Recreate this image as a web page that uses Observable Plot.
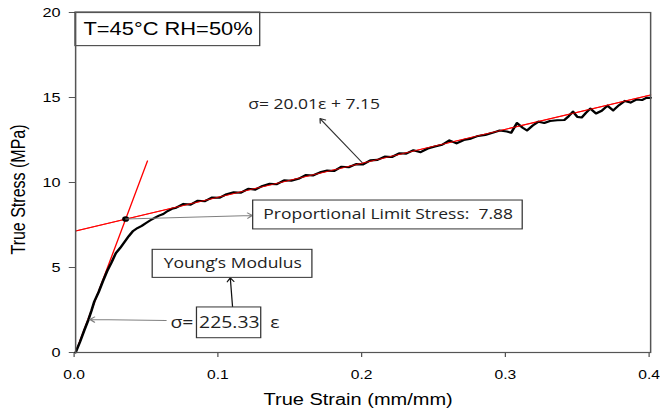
<!DOCTYPE html>
<html><head><meta charset="utf-8">
<script src="https://cdn.jsdelivr.net/npm/d3@7"></script>
<script src="https://cdn.jsdelivr.net/npm/@observablehq/plot@0.6"></script>
<style>html,body{margin:0;padding:0;background:#fff} svg{display:block}</style>
</head><body><div id="chart"></div>
<script>
// ---- data ----
const strain = [0,0.003,0.006,0.009,0.011,0.013,0.016,0.019,0.022,0.025,0.028,0.031,0.034,0.037,0.040,0.043,0.046,0.049,0.052,0.055,0.058,0.061,0.064,0.067,
0.070,0.075,0.080,0.085,0.090,0.095,0.100,0.105,0.110,0.115,0.120,0.125,0.130,0.135,0.140,0.145,0.150,0.155,0.160,0.165,0.170,0.175,0.180,0.185,0.190,0.195,0.200,0.205,0.210,0.215,0.220,0.225,0.230,0.235,0.240,0.245,0.250,0.255,0.260,0.265,0.270,0.275,0.280,0.285,0.290,0.295,0.300,
0.303,0.307,0.311,0.314,0.318,0.322,0.326,0.330,0.335,0.340,0.343,0.346,0.349,0.352,0.355,0.358,0.362,0.366,0.370,0.374,0.378,0.382,0.386,0.390,0.394,0.397,0.400];
const stress = [0,0.62,1.30,1.95,2.45,3.00,3.55,4.20,4.80,5.30,5.85,6.15,6.50,6.85,7.15,7.32,7.45,7.62,7.78,7.92,8.05,8.15,8.32,8.45,
8.52,8.74,8.70,8.93,8.90,9.12,9.10,9.31,9.42,9.40,9.63,9.58,9.80,9.92,9.90,10.13,10.10,10.22,10.44,10.41,10.60,10.70,10.68,10.93,10.90,11.08,11.06,11.30,11.33,11.52,11.50,11.72,11.70,11.90,11.78,12.00,12.12,12.22,12.48,12.30,12.50,12.58,12.74,12.80,12.92,13.06,13.00,
12.93,13.50,13.22,13.06,13.35,13.58,13.50,13.62,13.66,13.68,13.90,14.17,13.86,13.82,14.10,14.35,14.06,14.22,14.52,14.24,14.55,14.80,14.70,14.88,14.85,14.98,14.98];

const youngFitStrain = [0, 0.05];
const youngFitStress = [0, 11.27];
const plasticFitStrain = [0, 0.4];
const plasticFitStress = [7.15, 15.15];
const limitStrain = [0.0348];
const limitStress = [7.85];

const xTicks = [0, 0.1, 0.2, 0.3, 0.4];
const yTicks = [0, 5, 10, 15, 20];
const xTitle = "True Strain (mm/mm)";
const yTitle = "True Stress (MPa)";
const conditionLabel = "T=45°C RH=50%";
const plasticFitLabel = "σ= 20.01ε + 7.15";
const limitLabel = "Proportional Limit Stress:  7.88";
const youngLabel = "Young’s Modulus";
const modulusPrefix = "σ=";
const modulusValue = "225.33";
const modulusSuffix = "ε";

// ---- annotation placement (data coordinates) ----
const boxes = [
  {x1: 0, x2: 0.1285, y1: 18.02, y2: 20},
  {x1: 0.1236, x2: 0.3111, y1: 7.24, y2: 8.94},
  {x1: 0.0537, x2: 0.1648, y1: 4.39, y2: 6.04},
  {x1: 0.0845, x2: 0.1292, y1: 0.84, y2: 2.65}
];
const arrows = [
  {x1: 0.1993, y1: 11.18, x2: 0.170, y2: 13.76, c: "#333"},
  {x1: 0.0348, y1: 7.85, x2: 0.1229, y2: 8.06, c: "#808080"},
  {x1: 0.1092, y1: 2.65, x2: 0.1076, y2: 4.39, c: "#111"},
  {x1: 0.063, y1: 1.88, x2: 0.0099, y2: 1.94, c: "#808080"}
];

// ---- build ----
const curve = strain.map((x, i) => ({x, y: stress[i]}));
const youngFit = youngFitStrain.map((x, i) => ({x, y: youngFitStress[i]}));
const plasticFit = plasticFitStrain.map((x, i) => ({x, y: plasticFitStress[i]}));
const limitPt = limitStrain.map((x, i) => ({x, y: limitStress[i]}));

const S = 1.25, W = 660, H = 412, W0 = W / S;
const calib = "'Open Sans', 'DejaVu Sans', sans-serif";
const arial = "'Liberation Sans', Arial, sans-serif";

const svg = Plot.plot({
  width: W0, height: H,
  marginLeft: 60, marginRight: 8, marginTop: 12, marginBottom: 60,
  style: {fontFamily: arial, fontSize: "13px", background: "#fff", color: "#000"},
  x: {domain: [0, 0.4], label: null},
  y: {domain: [0, 20], label: null},
  marks: [
    Plot.axisX({ticks: xTicks, tickFormat: d3.format(".1f"), tickSize: 5, tickPadding: 13, stroke: "#555", fill: "#000", label: null, fontSize: 12.5, textAnchor: "middle", dx: -1.2}),
    Plot.axisY({ticks: yTicks, tickSize: 5, tickPadding: 7, stroke: "#555", fill: "#000", label: null, fontSize: 13}),
    Plot.line(youngFit, {x: "x", y: "y", stroke: "#ff0000", strokeWidth: 1.1}),
    Plot.line(plasticFit, {x: "x", y: "y", stroke: "#ff0000", strokeWidth: 1.1}),
    Plot.line(curve, {x: "x", y: "y", stroke: "#000", strokeWidth: 2.1, strokeLinejoin: "round"}),
    Plot.line(plasticFit, {x: "x", y: "y", stroke: "#ff0000", strokeWidth: 0.9, strokeOpacity: 0.8}),
    Plot.dot(limitPt, {x: "x", y: "y", r: 2.8, fill: "#000", stroke: "none"}),
    Plot.arrow(arrows, {x1: "x1", y1: "y1", x2: "x2", y2: "y2", stroke: "c", strokeWidth: 1, headLength: 7, headAngle: 70}),
    Plot.rect(boxes, {x1: "x1", x2: "x2", y1: "y1", y2: "y2", fill: "#fff", stroke: "#333", strokeWidth: 1}),
    Plot.frame({stroke: "#555", strokeWidth: 1.2}),
    Plot.text([conditionLabel], {x: 0.0643, y: 18.98, text: d => d, fontFamily: arial, fontSize: 17.5, textAnchor: "middle", lineAnchor: "middle", fill: "#000"}),
    Plot.text([plasticFitLabel], {x: 0.1201, y: 14.59, text: d => d, fontFamily: calib, fontSize: 14, textAnchor: "start", lineAnchor: "middle", fill: "#222"}),
    Plot.text([limitLabel], {x: 0.2174, y: 8.09, text: d => d, fontFamily: calib, fontSize: 14, textAnchor: "middle", lineAnchor: "middle", fill: "#222"}),
    Plot.text([youngLabel], {x: 0.1093, y: 5.22, text: d => d, fontFamily: calib, fontSize: 14, textAnchor: "middle", lineAnchor: "middle", fill: "#222"}),
    Plot.text([modulusValue], {x: 0.1069, y: 1.75, text: d => d, fontFamily: calib, fontSize: 15.5, textAnchor: "middle", lineAnchor: "middle", fill: "#222"}),
    Plot.text([modulusPrefix], {x: 0.0819, y: 1.75, text: d => d, fontFamily: calib, fontSize: 15.5, textAnchor: "end", lineAnchor: "middle", fill: "#222"}),
    Plot.text([modulusSuffix], {x: 0.1354, y: 1.75, text: d => d, fontFamily: calib, fontSize: 15.5, textAnchor: "start", lineAnchor: "middle", fill: "#222"}),
    Plot.text([xTitle], {frameAnchor: "bottom", dx: -4, dy: 52, text: d => d, fontFamily: arial, fontSize: 16, textAnchor: "middle", lineAnchor: "bottom", fill: "#000"}),
    Plot.text([yTitle], {frameAnchor: "left", dx: -45.6, dy: 7, rotate: -90, text: d => d, fontFamily: arial, fontSize: 16, textAnchor: "middle", lineAnchor: "middle", fill: "#000"})
  ]
});

// The reference is horizontally stretched; reproduce that by scaling the viewBox.
svg.setAttribute("width", W);
svg.setAttribute("height", H);
svg.setAttribute("viewBox", `0 0 ${W0} ${H}`);
svg.setAttribute("preserveAspectRatio", "none");
svg.style.width = W + "px";
svg.style.height = H + "px";
svg.style.maxWidth = "none";
document.getElementById("chart").appendChild(svg);
</script>
</body></html>
